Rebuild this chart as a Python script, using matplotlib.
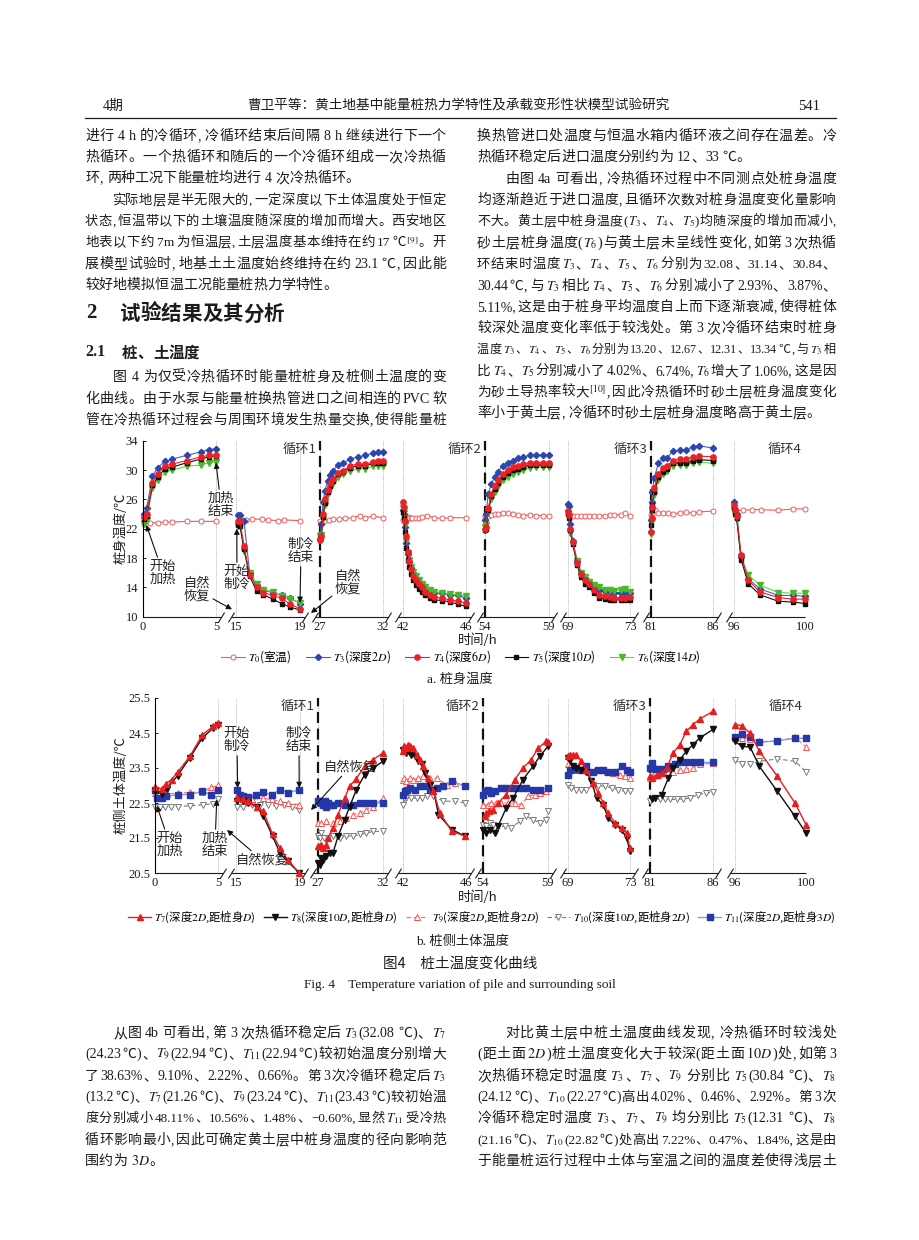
import re
import numpy as np
import matplotlib
matplotlib.use('Agg')
import matplotlib.pyplot as plt

plt.rcParams['font.family'] = ['Liberation Serif', 'Noto Sans CJK SC']
plt.rcParams['mathtext.fontset'] = 'stix'
plt.rcParams['axes.unicode_minus'] = False

W, H, DPI = 920, 1240, 100
INK = '#1c1c1c'
FAM = ['Liberation Serif', 'Noto Sans CJK SC']
CJK = 'Noto Sans CJK SC'

# ── time windows shown on the broken x axis ───────────────────────────────────
SEGMENTS = [(0, 5), (15, 19), (27, 32), (42, 46), (54, 59), (69, 73), (81, 86), (96, 100)]
XTICKS = [0, 5, 15, 19, 27, 32, 42, 46, 54, 59, 69, 73, 81, 86, 96, 100]
CYCLE_SPLITS = [27, 54, 81]
CYCLE_LABELS = ['循环1', '循环2', '循环3', '循环4']

# ── (a) pile temperature ──────────────────────────────────────────────────────
a_time = [0.1, 0.25, 0.65, 1.0, 1.5, 2.0, 3.0, 4.0, 4.5, 5.0,
          15.1, 15.25, 15.5, 15.85, 16.3, 16.7, 17.3, 17.85, 18.4, 19.0,
          27.0, 27.1, 27.25, 27.4, 27.6, 27.8, 28.05, 28.4, 28.8, 29.4, 30.0, 30.6, 31.2, 31.6, 32.0,
          42.0, 42.06, 42.13, 42.2, 42.3, 42.4, 42.5, 42.65, 42.8, 43.0, 43.2, 43.4, 43.7, 44.0, 44.5, 45.0, 45.5, 46.0,
          54.0, 54.1, 54.25, 54.5, 54.75, 55.0, 55.4, 55.8, 56.2, 56.6, 57.0, 57.5, 58.0, 58.5, 59.0,
          69.0, 69.05, 69.15, 69.3, 69.6, 69.85, 70.1, 70.35, 70.7, 71.0, 71.4, 71.7, 72.0, 72.4, 72.7, 73.0,
          81.0, 81.05, 81.12, 81.25, 81.6, 82.0, 82.3, 82.8, 83.3, 83.8, 84.4, 84.9, 86.0,
          96.0, 96.05, 96.15, 96.4, 96.8, 97.45, 98.5, 99.3, 100.0]
a_T3 = [24.0, 24.8, 29.2, 30.3, 31.2, 31.5, 32.0, 32.5, 32.8, 32.9,
        23.9, 23.9, 23.1, 16.0, 14.3, 13.6, 13.3, 12.9, 12.5, 11.8,
        20.6, 22.6, 25.7, 27.2, 28.5, 29.3, 29.9, 30.7, 30.9, 31.5, 31.8, 32.0, 32.3, 32.4, 32.4,
        24.6, 24.0, 22.3, 20.0, 18.5, 17.4, 16.6, 15.9, 15.3, 14.8, 14.4, 13.9, 13.5, 13.3, 13.2, 13.0, 12.9, 12.5,
        23.2, 24.0, 26.7, 28.1, 29.0, 29.8, 30.6, 31.0, 31.3, 31.6, 31.8, 32.0, 32.0, 32.1, 32.1,
        25.4, 25.1, 22.6, 20.3, 17.6, 16.0, 15.3, 14.7, 14.1, 13.7, 13.5, 13.4, 13.3, 13.3, 13.2, 13.2,
        23.2, 25.6, 27.0, 28.9, 30.9, 31.6, 31.7, 32.6, 32.7, 32.7, 33.2, 33.3, 33.0,
        25.7, 24.6, 24.0, 18.2, 15.2, 13.8, 12.9, 12.9, 12.8]
a_T4 = [23.6, 24.0, 28.3, 29.5, 30.6, 30.8, 31.3, 31.8, 32.0, 32.1,
        23.1, 23.0, 19.7, 15.7, 14.0, 13.3, 12.9, 12.5, 11.7, 11.1,
        20.5, 21.0, 24.0, 26.0, 27.3, 28.2, 28.8, 29.6, 29.9, 30.6, 30.8, 30.8, 31.1, 31.2, 31.2,
        25.6, 24.9, 23.0, 21.0, 18.8, 17.6, 16.5, 15.6, 15.0, 14.4, 14.0, 13.4, 13.0, 12.7, 12.5, 12.3, 12.1, 11.9,
        22.0, 22.2, 24.8, 26.8, 27.8, 28.7, 29.5, 30.0, 30.4, 30.6, 30.8, 31.0, 31.0, 31.0, 31.0,
        24.4, 23.9, 22.0, 20.2, 17.3, 15.8, 15.0, 14.4, 13.6, 13.0, 12.8, 12.7, 12.6, 12.6, 12.6, 12.7,
        21.6, 23.4, 25.0, 27.5, 29.5, 30.3, 30.6, 31.3, 31.5, 31.5, 31.8, 31.9, 31.8,
        25.2, 24.5, 23.8, 18.4, 15.0, 13.4, 12.6, 12.4, 12.4]
a_T5 = [23.3, 23.8, 27.9, 29.0, 30.2, 30.4, 31.0, 31.5, 31.8, 31.9,
        22.5, 22.4, 19.2, 15.5, 13.5, 13.0, 12.4, 11.8, 11.3, 10.9,
        20.8, 21.0, 23.6, 25.5, 27.0, 27.8, 28.5, 29.4, 29.7, 30.3, 30.6, 30.6, 30.9, 31.0, 31.0,
        24.3, 23.5, 21.5, 19.4, 17.8, 16.8, 15.8, 15.0, 14.3, 13.8, 13.4, 12.9, 12.5, 12.3, 12.2, 12.0, 11.7, 11.4,
        21.8, 22.0, 24.5, 26.4, 27.4, 28.3, 29.1, 29.6, 30.0, 30.2, 30.4, 30.7, 30.7, 30.7, 30.7,
        24.0, 23.5, 21.8, 19.9, 17.0, 15.4, 14.5, 14.0, 13.2, 12.6, 12.4, 12.3, 12.3, 12.3, 12.3, 12.3,
        22.5, 24.5, 25.3, 27.0, 29.0, 29.8, 30.2, 30.9, 31.0, 31.0, 31.2, 31.4, 31.3,
        24.8, 24.0, 23.4, 17.8, 14.5, 13.0, 12.1, 12.0, 11.8]
a_T6 = [22.6, 23.2, 27.6, 28.6, 29.7, 30.0, 30.5, 30.7, 31.0, 31.1,
        22.4, 22.4, 19.0, 16.0, 14.5, 13.7, 13.4, 12.8, 12.4, 11.9,
        21.0, 21.1, 23.3, 25.2, 26.7, 27.4, 28.2, 29.0, 29.4, 29.9, 30.1, 30.2, 30.5, 30.6, 30.5,
        24.8, 24.2, 22.5, 20.3, 18.7, 17.7, 16.8, 16.1, 15.5, 15.0, 14.5, 14.0, 13.6, 13.4, 13.3, 13.1, 13.0, 12.8,
        22.3, 22.5, 24.3, 26.0, 27.0, 27.8, 28.6, 29.1, 29.5, 29.8, 30.0, 30.3, 30.4, 30.4, 30.4,
        24.2, 23.7, 21.4, 20.0, 17.6, 16.0, 15.4, 14.8, 14.3, 14.0, 13.7, 13.6, 13.5, 13.7, 13.8, 13.4,
        21.3, 23.0, 24.4, 26.6, 28.6, 29.4, 29.9, 30.6, 30.7, 30.7, 31.0, 31.1, 30.9,
        24.5, 24.0, 23.3, 18.2, 15.7, 14.3, 13.3, 13.2, 13.2]
a_time_T0 = [0.1, 0.5, 1.0, 1.5, 2.0, 3.0, 4.0, 5.0,
             15.2, 15.6, 16.0, 16.6, 17.0, 17.6, 18.0, 19.0,
             27.0, 27.3, 27.7, 28.0, 28.5, 29.0, 29.6, 30.2, 30.6, 31.2, 32.0,
             42.0, 42.1, 42.2, 42.3, 42.4, 42.5, 42.6, 42.8, 43.0, 43.2, 43.5, 44.0, 44.5, 45.0, 46.0,
             54.0, 54.1, 54.25, 54.5, 54.75, 55.0, 55.4, 55.8, 56.2, 56.6, 57.0, 57.5, 58.0, 58.5, 59.0,
             69.0, 69.05, 69.15, 69.3, 69.6, 69.85, 70.1, 70.35, 70.7, 71.0, 71.4, 71.7, 72.0, 72.4, 72.7, 73.0,
             81.0, 81.1, 81.3, 81.6, 82.0, 82.4, 82.8, 83.3, 83.8, 84.4, 84.9, 86.0,
             96.1, 96.5, 97.0, 97.5, 98.5, 99.3, 100.0]
a_T0 = [22.7, 22.8, 22.8, 22.9, 22.9, 23.0, 23.0, 23.0,
        23.1, 23.2, 23.3, 23.3, 23.2, 23.1, 23.2, 23.1,
        23.0, 23.1, 23.2, 23.3, 23.3, 23.4, 23.5, 23.8, 23.5, 23.7, 23.5,
        23.2, 23.8, 23.5, 23.6, 23.4, 23.5, 23.5, 23.5, 23.5, 23.6, 23.8, 23.5, 23.4, 23.5, 23.5,
        23.7, 23.8, 23.8, 23.9, 24.0, 24.0, 24.1, 24.1, 24.0, 23.9, 23.8, 23.9, 23.8, 23.8, 23.7,
        24.0, 23.7, 23.7, 23.8, 23.8, 23.8, 23.8, 23.8, 23.8, 23.8, 23.8, 23.9, 23.9, 23.9, 24.1, 23.8,
        23.9, 24.2, 24.5, 24.2, 24.1, 24.2, 24.0, 24.2, 24.3, 24.1, 24.3, 24.4,
        24.5, 24.5, 24.6, 24.6, 24.5, 24.7, 24.7]

# ── (b) soil temperature beside the pile ──────────────────────────────────────
b_time_T7 = [0, 0.53, 0.84, 1.32, 1.79, 2.76, 3.76, 4.61, 5.0,
             15.08, 15.46, 15.77, 16.29, 16.71, 17.29, 17.75, 18.23, 18.96,
             27.0, 27.13, 27.26, 27.38, 27.64, 27.77, 28.15, 28.54, 29.05, 29.44, 29.95, 30.59, 31.23, 32.0,
             42.0, 42.04, 42.17, 42.32, 42.47, 42.64, 42.86, 43.07, 43.28, 43.6, 43.93, 44.35, 45.1, 45.96,
             54.13, 54.26, 54.46, 54.77, 55.15, 55.79, 56.44, 57.08, 57.72, 58.23, 58.87, 59.0,
             69.0, 69.11, 69.32, 69.54, 69.86, 70.19, 70.62, 70.95, 71.27, 71.59, 72.03, 72.46, 72.78, 73.0,
             81.0, 81.13, 81.53, 81.92, 82.32, 82.84, 83.37, 83.89, 84.42, 84.95, 86.0,
             96.0, 96.38, 96.85, 97.37, 98.39, 99.38, 100.0]
b_T7 = [22.96, 22.90, 23.05, 23.17, 23.38, 23.83, 24.45, 24.69, 24.79,
        22.64, 22.60, 22.55, 22.40, 22.26, 21.60, 21.21, 20.88, 20.50,
        21.26, 21.26, 21.31, 21.21, 21.30, 21.50, 21.79, 22.17, 22.64, 22.98, 23.20, 23.55, 23.74, 23.93,
        23.98, 24.12, 24.07, 24.17, 24.12, 24.07, 23.88, 23.74, 23.55, 23.21, 22.83, 22.21, 21.69, 21.55,
        22.12, 22.21, 22.26, 22.31, 22.50, 22.74, 23.17, 23.50, 23.74, 24.07, 24.26, 24.23,
        23.83, 23.88, 23.88, 23.88, 23.69, 23.45, 23.07, 22.79, 22.50, 22.21, 21.93, 21.79, 21.64, 21.21,
        23.26, 23.21, 23.31, 23.36, 23.50, 23.93, 24.17, 24.55, 24.74, 24.90, 25.12,
        24.74, 24.71, 24.50, 23.98, 23.26, 22.50, 21.88]
b_time_T8 = [0, 0.53, 0.92, 1.79, 2.76, 3.76, 4.61, 5.0,
             15.08, 15.46, 15.77, 16.29, 16.71, 17.29, 17.75, 18.23, 18.96,
             27.0, 27.13, 27.26, 27.38, 27.64, 27.9, 28.15, 28.54, 29.05, 29.44, 29.95, 30.59, 31.23, 32.0,
             42.0, 42.04, 42.17, 42.32, 42.53, 42.75, 42.96, 43.18, 43.39, 43.71, 43.93, 44.25, 45.1, 45.96,
             54.0, 54.26, 54.51, 54.9, 55.15, 55.79, 56.31, 57.08, 57.85, 58.36, 59.0,
             69.0, 69.11, 69.32, 69.54, 69.86, 70.19, 70.51, 70.84, 71.27, 71.59, 72.03, 72.46, 72.78, 73.0,
             81.13, 81.39, 81.92, 82.45, 82.84, 83.37, 83.89, 84.42, 84.95, 86.0,
             96.0, 96.38, 96.85, 97.37, 98.39, 99.38, 100.0]
b_T8 = [22.83, 22.77, 22.90, 23.28, 23.79, 24.36, 24.64, 24.74,
        22.55, 22.55, 22.50, 22.40, 22.12, 21.55, 21.07, 20.83, 20.50,
        20.79, 20.74, 20.93, 20.88, 20.98, 21.07, 21.07, 21.55, 22.02, 22.40, 22.88, 23.31, 23.50, 23.69,
        24.02, 23.98, 23.93, 23.98, 23.88, 23.83, 23.69, 23.60, 23.36, 23.02, 22.88, 22.17, 21.74, 21.55,
        21.74, 21.64, 21.74, 21.64, 21.83, 22.36, 22.64, 23.17, 23.55, 23.83, 24.12,
        23.79, 23.74, 23.55, 23.50, 23.45, 23.40, 23.12, 22.64, 22.45, 22.07, 21.88, 21.74, 21.50, 21.12,
        22.60, 22.64, 22.74, 23.21, 23.50, 23.74, 23.98, 24.17, 24.36, 24.60,
        24.26, 24.12, 24.10, 23.55, 22.83, 22.12, 21.64]
b_time_T9 = [0, 0.53, 0.92, 1.84, 2.76, 3.76, 4.47, 5.0,
             15.08, 15.46, 15.98, 16.71, 17.23, 17.75, 18.27, 18.96,
             27.0, 27.26, 27.64, 28.15, 28.67, 29.18, 29.69, 30.21, 30.72, 31.23, 32.0,
             42.0, 42.04, 42.21, 42.43, 42.64, 42.96, 43.28, 43.71, 44.14, 44.78, 45.32, 45.96,
             54.0, 54.38, 54.64, 55.03, 55.41, 55.92, 56.44, 56.95, 57.46, 57.97, 58.36, 58.87,
             69.0, 69.11, 69.32, 69.65, 70.08, 70.41, 70.73, 71.05, 71.49, 71.92, 72.35, 72.68, 73.0,
             81.0, 81.26, 81.66, 82.05, 82.45, 82.84, 83.37, 83.89, 84.42, 84.95, 86.0,
             96.0, 96.38, 96.85, 97.37, 98.39, 99.38, 100.0]
b_T9 = [22.78, 22.77, 22.76, 22.78, 22.80, 22.82, 22.95, 23.00,
        22.69, 22.64, 22.60, 22.64, 22.60, 22.55, 22.50, 22.45,
        21.93, 21.93, 21.98, 21.93, 21.98, 22.07, 22.17, 22.21, 22.31, 22.40, 22.64,
        23.17, 23.21, 23.12, 23.21, 23.17, 23.21, 23.26, 23.21, 23.21, 23.02, 23.07, 22.98,
        22.45, 22.45, 22.50, 22.50, 22.50, 22.50, 22.50, 22.45, 22.69, 22.74, 22.79, 22.83,
        23.60, 23.55, 23.45, 23.45, 23.45, 23.40, 23.45, 23.45, 23.40, 23.36, 23.31, 23.26, 23.21,
        23.21, 23.26, 23.31, 23.36, 23.40, 23.40, 23.45, 23.48, 23.50, 23.60, 23.64,
        24.36, 24.36, 24.33, 24.26, 24.26, 24.38, 24.10]
b_time_T10 = [0, 0.4, 0.8, 1.3, 1.8, 2.8, 3.8, 4.6, 5.0,
              15.08, 15.46, 15.98, 16.5, 17.0, 17.5, 18.0, 18.5, 18.96,
              27.0, 27.13, 27.26, 27.5, 27.77, 28.15, 28.67, 29.18, 29.69, 30.21, 30.72, 31.23, 32.0,
              42.0, 42.04, 42.21, 42.53, 42.86, 43.18, 43.5, 43.93, 44.57, 45.32, 45.96,
              54.0, 54.26, 54.51, 54.77, 55.15, 55.67, 56.18, 56.82, 57.33, 57.85, 58.36, 58.87, 59.0,
              69.0, 69.22, 69.54, 69.86, 70.19, 70.62, 70.95, 71.38, 71.81, 72.24, 72.68, 73.0,
              81.0, 81.39, 81.79, 82.18, 82.58, 83.11, 83.63, 84.16, 84.82, 85.47, 86.0,
              96.0, 96.38, 96.85, 97.37, 98.39, 99.38, 100.0]
b_T10 = [22.40, 22.38, 22.38, 22.38, 22.40, 22.42, 22.45, 22.48, 22.60,
         22.40, 22.40, 22.45, 22.45, 22.43, 22.42, 22.45, 22.40, 22.31,
         21.55, 21.50, 21.64, 21.50, 21.50, 21.55, 21.50, 21.55, 21.55, 21.60, 21.64, 21.69, 21.69,
         22.45, 22.64, 22.64, 22.64, 22.64, 22.64, 22.69, 22.69, 22.55, 22.55, 22.50,
         21.88, 21.83, 21.93, 21.88, 21.83, 21.83, 21.79, 21.98, 22.12, 22.02, 21.93, 22.02, 22.26,
         23.02, 22.93, 22.88, 22.88, 22.88, 23.02, 22.98, 22.98, 22.93, 22.88, 22.83, 22.83,
         22.55, 22.64, 22.60, 22.60, 22.60, 22.60, 22.62, 22.64, 22.74, 22.79, 22.80,
         23.74, 23.60, 23.60, 23.69, 23.76, 23.69, 23.40]
b_time_T11 = [0, 0.13, 0.53, 0.84, 1.79, 2.76, 3.76, 4.47, 5.0,
              15.08, 15.25, 15.46, 15.77, 16.25, 16.71, 17.23, 17.75, 18.27, 18.96,
              27.0, 27.13, 27.26, 27.38, 27.51, 27.64, 27.77, 27.9, 28.15, 28.54, 29.05, 29.69, 30.21, 30.72, 31.23, 32.0,
              42.0, 42.11, 42.26, 42.43, 42.75, 43.07, 43.39, 43.71, 44.14, 44.57, 45.1, 45.96,
              54.0, 54.13, 54.38, 54.64, 54.9, 55.41, 55.79, 56.31, 56.82, 57.33, 57.85, 58.36, 59.0,
              69.0, 69.11, 69.37, 69.54, 69.86, 70.19, 70.62, 70.95, 71.27, 71.59, 72.03, 72.46, 72.78, 73.0,
              81.0, 81.13, 81.39, 81.66, 82.0, 82.45, 82.97, 83.37, 83.89, 84.42, 84.95, 86.0,
              96.0, 96.38, 96.85, 97.37, 98.39, 99.38, 100.0]
b_T11 = [22.88, 22.63, 22.64, 22.69, 22.74, 22.74, 22.83, 22.74, 22.88,
         22.88, 22.74, 22.69, 22.67, 22.74, 22.80, 22.74, 22.88, 22.79, 22.88,
         22.55, 22.55, 22.50, 22.45, 22.55, 22.40, 22.50, 22.45, 22.45, 22.50, 22.45, 22.45, 22.50, 22.50, 22.50, 22.50,
         22.74, 22.83, 22.88, 22.93, 22.88, 22.98, 22.98, 22.88, 22.93, 22.98, 23.12, 22.98,
         22.74, 22.83, 22.88, 22.79, 22.83, 22.93, 22.93, 22.93, 22.93, 22.93, 22.88, 22.88, 22.93,
         23.31, 23.45, 23.48, 23.48, 23.45, 23.55, 23.40, 23.45, 23.45, 23.40, 23.40, 23.55, 23.45, 23.40,
         23.50, 23.64, 23.48, 23.48, 23.48, 23.55, 23.62, 23.66, 23.66, 23.66, 23.66, 23.66,
         24.40, 24.48, 24.38, 24.23, 24.28, 24.35, 24.35]

# ── page text ─────────────────────────────────────────────────────────────────
LEFT_TOP = [
    (135, '进行 4 h 的冷循环,冷循环结束后间隔 8 h 继续进行下一个', True),
    (156, '热循环。一个热循环和随后的一个冷循环组成一次冷热循', True),
    (177, '环,两种工况下能量桩均进行 4 次冷热循环。', False),
    (199, '\u3000\u3000实际地层是半无限大的,一定深度以下土体温度处于恒定', True),
    (220, '状态,恒温带以下的土壤温度随深度的增加而增大。西安地区', True),
    (241, '地表以下约 7 m 为恒温层,土层温度基本维持在约 17 ℃$^{[9]}$。开', True),
    (263, '展模型试验时,地基土土温度始终维持在约 23.1 ℃,因此能', True),
    (284, '较好地模拟恒温工况能量桩热力学特性。', False),
    (376, '\u3000\u3000图 4 为仅受冷热循环时能量桩桩身及桩侧土温度的变', True),
    (398, '化曲线。由于水泵与能量桩换热管进口之间相连的 PVC 软', True),
    (419, '管在冷热循环过程会与周围环境发生热量交换,使得能量桩', True),
]
RIGHT_TOP = [
    (135, '换热管进口处温度与恒温水箱内循环液之间存在温差。冷', True),
    (156, '热循环稳定后进口温度分别约为 12、33 ℃。', False),
    (178, '\u3000\u3000由图 4a 可看出,冷热循环过程中不同测点处桩身温度', True),
    (199, '均逐渐趋近于进口温度,且循环次数对桩身温度变化量影响', True),
    (220, '不大。黄土层中桩身温度($T_3$、$T_4$、$T_5$)均随深度的增加而减小,', True),
    (242, '砂土层桩身温度($T_6$)与黄土层未呈线性变化,如第 3 次热循', True),
    (263, '环结束时温度 $T_3$、$T_4$、$T_5$、$T_6$ 分别为 32.08、31.14、30.84、', True),
    (285, '30.44 ℃, 与 $T_3$ 相比 $T_4$、$T_5$、$T_6$ 分别减小了 2.93%、3.87%、', True),
    (306, '5.11%,这是由于桩身平均温度自上而下逐渐衰减,使得桩体', True),
    (327, '较深处温度变化率低于较浅处。第 3 次冷循环结束时桩身', True),
    (348, '温度 $T_3$、$T_4$、$T_5$、$T_6$分别为 13.20、12.67、12.31、13.34 ℃,与 $T_3$ 相', True),
    (370, '比 $T_4$、$T_5$分别减小了 4.02%、6.74%,$T_6$增大了 1.06%,这是因', True),
    (391, '为砂土导热率较大$^{[10]}$,因此冷热循环时砂土层桩身温度变化', True),
    (412, '率小于黄土层,冷循环时砂土层桩身温度略高于黄土层。', False),
]
LEFT_BOTTOM = [
    (1032, '\u3000\u3000从图 4b 可看出,第 3 次热循环稳定后 $T_3$(32.08 ℃)、$T_7$', True),
    (1053, '(24.23 ℃)、$T_9$(22.94 ℃)、$T_{11}$(22.94 ℃)较初始温度分别增大', True),
    (1075, '了 38.63%、9.10%、2.22%、0.66%。第 3 次冷循环稳定后 $T_3$', True),
    (1096, '(13.2 ℃)、$T_7$(21.26 ℃)、$T_9$(23.24 ℃)、$T_{11}$(23.43 ℃)较初始温', True),
    (1117, '度分别减小 48.11%、10.56%、1.48%、−0.60%,显然 $T_{11}$ 受冷热', True),
    (1139, '循环影响最小,因此可确定黄土层中桩身温度的径向影响范', True),
    (1160, '围约为 $3D$。', False),
]
RIGHT_BOTTOM = [
    (1032, '\u3000\u3000对比黄土层中桩土温度曲线发现,冷热循环时较浅处', True),
    (1053, '(距土面 $2D$)桩土温度变化大于较深(距土面 $10D$)处,如第 3', True),
    (1075, '次热循环稳定时温度 $T_3$、$T_7$、$T_9$ 分别比 $T_5$(30.84 ℃)、$T_8$', True),
    (1096, '(24.12 ℃)、$T_{10}$(22.27 ℃)高出 4.02%、0.46%、2.92%。第 3 次', True),
    (1117, '冷循环稳定时温度 $T_3$、$T_7$、$T_9$ 均分别比 $T_5$(12.31 ℃)、$T_8$', True),
    (1139, '(21.16 ℃)、$T_{10}$(22.82 ℃)处高出 7.22%、0.47%、1.84%,这是由', True),
    (1160, '于能量桩运行过程中土体与室温之间的温度差使得浅层土', True),
]

fig = plt.figure(figsize=(W / DPI, H / DPI), dpi=DPI)
fig.patch.set_facecolor('white')
renderer = fig.canvas.get_renderer()


def fx(px):
    return px / W


def fy(py):
    return 1 - py / H


LAT = re.compile(r'[A-Za-z0-9.%,;:()\[\]/+\-−]+')
TOK = re.compile(r'\$[^$]+\$|[A-Za-z0-9.%,;:()\[\]/+\-−]+|.')
PUNCT = '、，。；：'
MIN_GAP = 0.4


def text_line(s, x0, x1, yc, em=14.0, justify=True, weight='normal'):
    """set one line of body text, spreading the glyphs over the column"""
    fs = em * 72 / DPI
    items, pad = [], 0.0
    for tok in TOK.findall(s):
        if tok == ' ':
            pad += 0.28 * em
            continue
        if tok == '\u3000':
            pad += em
            continue
        t = fig.text(0, 0, tok, fontsize=fs, family=FAM, fontweight=weight,
                     va='baseline', color=INK)
        if tok.startswith('$') or LAT.fullmatch(tok):
            w = t.get_window_extent(renderer).width
            kind = 'lat'
        else:
            w, kind = em, 'cjk'
        items.append([t, tok, kind, w, pad])
        pad = 0.3 * em if tok.endswith(',') else 0.0
    n = len(items)
    avail = x1 - x0
    natural = sum(it[3] + it[4] for it in items)
    if justify and natural + MIN_GAP * (n - 1) > avail:
        # first tighten the word spaces, then shrink the glyphs of this line
        spaces = sum(it[4] for it in items[1:])
        cut = min(0.6 * spaces, natural + MIN_GAP * (n - 1) - avail)
        if spaces:
            for it in items[1:]:
                it[4] -= cut * it[4] / spaces
        natural -= cut
        if natural + MIN_GAP * (n - 1) > avail:
            k = (avail - MIN_GAP * (n - 1)) / natural
            for it in items:
                it[0].set_fontsize(fs * k)
                it[3] *= k
                it[4] *= k
            natural *= k
    gap = (avail - natural) / (n - 1) if justify and n > 1 else 0.0
    base = yc + 0.36 * em
    x = x0
    for i, (t, tok, kind, w, p) in enumerate(items):
        x += p + (gap if i else 0.0)
        if kind == 'lat' or tok in PUNCT:
            t.set_ha('left'); px = x
        else:
            t.set_ha('center'); px = x + w / 2
        t.set_position((fx(px), fy(base)))
        x += w


# ── running head ──────────────────────────────────────────────────────────────
fig.text(fx(103), fy(106), '4期', fontsize=10, va='center', ha='left', color=INK)
fig.text(fx(458), fy(106), '曹卫平等：黄土地基中能量桩热力学特性及承载变形性状模型试验研究',
         fontsize=9.8, va='center', ha='center', family=[CJK], color=INK)
fig.text(fx(820), fy(106), '541', fontsize=10.5, va='center', ha='right', color=INK)
fig.add_artist(plt.Line2D([fx(85), fx(836)], [fy(118), fy(118)], color=INK, lw=0.9))

for y, s, j in LEFT_TOP:
    text_line(s, 85, 446, y, justify=j)
for y, s, j in RIGHT_TOP:
    text_line(s, 477, 836, y, justify=j)
for y, s, j in LEFT_BOTTOM:
    text_line(s, 85, 446, y, justify=j)
for y, s, j in RIGHT_BOTTOM:
    text_line(s, 477, 836, y, justify=j)

fig.text(fx(86), fy(313), '2', fontsize=15, fontweight='bold', va='center', ha='left', color=INK)
text_line('试验结果及其分析', 120, 290, 313, em=20.5, justify=False, weight='bold')
fig.text(fx(85), fy(352), '2.1', fontsize=11.5, fontweight='bold', va='center', ha='left', color=INK)
text_line('桩、土温度', 122, 200, 352, em=15.5, justify=False, weight='bold')


# ── charts ────────────────────────────────────────────────────────────────────
def broken_axes(left, top, right, bottom, seg_px, ylim, yticks, ylabel, ylabel_x):
    ax = fig.add_axes([fx(left), fy(bottom), (right - left) / W, (bottom - top) / H])
    fwd = lambda t: np.interp(t, XTICKS, seg_px)
    inv = lambda p: np.interp(p, seg_px, XTICKS)
    ax.set_xscale('function', functions=(fwd, inv))
    ax.set_xlim(0, 100)
    ax.set_ylim(*ylim)
    ax.set_xticks(XTICKS)
    ax.set_xticklabels([str(t) for t in XTICKS])
    ax.xaxis.set_minor_locator(matplotlib.ticker.NullLocator())
    ax.set_yticks(yticks)
    ax.set_yticklabels([f'{v:g}' if v == int(v) else f'{v:.1f}' for v in yticks])
    for side in ('top', 'right', 'bottom'):
        ax.spines[side].set_visible(False)
    ax.spines['left'].set_linewidth(0.8)
    ax.tick_params(axis='both', direction='in', length=2.5, width=0.7, labelsize=9, colors=INK)
    ax.tick_params(axis='x', length=0, pad=3)
    ax.patch.set_alpha(0)

    y0 = ylim[0]
    # baseline pieces with break marks between the time windows
    for i, (t0, t1) in enumerate(SEGMENTS):
        p0, p1 = seg_px[2 * i], seg_px[2 * i + 1]
        a = 0 if i == 0 else inv(p0 - 5)
        b = 100 if i == len(SEGMENTS) - 1 else inv(p1 + 5)
        ax.plot([a, b], [y0, y0], color=INK, lw=0.8, clip_on=False, solid_capstyle='butt')
        ends = ([] if i == 0 else [a]) + ([] if i == len(SEGMENTS) - 1 else [b])
        if ends:
            ax.plot(ends, [y0] * len(ends), ls='none', marker=[(-1, -1.6), (1, 1.6)],
                    ms=7, mec=INK, mew=0.8, clip_on=False)
        for t in (t0, t1):
            if t > 0:
                ax.axvline(t, color='#9a9a9a', lw=0.6, ls=(0, (1, 1.5)), zorder=0)
    for t in CYCLE_SPLITS:
        ax.axvline(t, color='#111111', lw=1.6, ls=(0, (5, 2.5)), zorder=1)
    for t, lab in zip(CYCLE_SPLITS + [100], CYCLE_LABELS):
        ax.annotate(lab, xy=(t, 1), xycoords=('data', 'axes fraction'), xytext=(-2.5, -6),
                    textcoords='offset points', ha='right', va='center', fontsize=9.5,
                    family=[CJK], color='#333333')
    fig.text(fx(ylabel_x), fy((top + bottom) / 2), ylabel, rotation=90, ha='center', va='center',
             fontsize=9.5, family=[CJK], color=INK)
    return ax


def plot_series(ax, t, v, **style):
    t, v = np.asarray(t, float), np.asarray(v, float)
    first = None
    for t0, t1 in SEGMENTS:
        m = (t >= t0 - 1e-9) & (t <= t1 + 1e-9)
        if m.any():
            ln, = ax.plot(t[m], v[m], clip_on=False, **style)
            first = first or ln
    return first


def note(ax, s, head, text_px):
    ax.annotate(s, xy=head, xycoords='data', xytext=(text_px[0], H - text_px[1]),
                textcoords='figure pixels', ha='center', va='center', fontsize=9.5,
                family=[CJK], linespacing=1.0, color='#222222',
                arrowprops=dict(arrowstyle='-|>', color='#111111', lw=0.8,
                                mutation_scale=8, shrinkA=0, shrinkB=0))


SEG_PX_A = [143, 216, 236, 300, 320, 383, 403, 466, 485, 549, 568, 630, 651, 713, 734, 805]
SEG_PX_B = [155, 218, 236, 300, 318, 383, 403, 466, 483, 548, 568, 630, 650, 713, 735, 806]

ax_a = broken_axes(143, 440.7, 805, 616.7, SEG_PX_A, (10, 34), [10, 14, 18, 22, 26, 30, 34],
                   '桩身温度/℃', 121)
h0 = plot_series(ax_a, a_time_T0, a_T0, color='#f05a5a', lw=0.8, marker='o', ms=3.6,
                 mfc='white', mec='#f05a5a', mew=0.7)
h3 = plot_series(ax_a, a_time, a_T3, color='#4862c8', lw=0.8, marker='D', ms=3.2,
                 mfc='#2c46b0', mec='#2c46b0')
h6 = plot_series(ax_a, a_time, a_T6, color='#66d040', lw=0.8, marker='v', ms=4,
                 mfc='#49b82a', mec='#49b82a')
h5 = plot_series(ax_a, a_time, a_T5, color='#111111', lw=0.8, marker='s', ms=3.2)
h4 = plot_series(ax_a, a_time, a_T4, color='#ea2228', lw=0.8, marker='o', ms=3.8,
                 mec='#ea2228')
note(ax_a, '开始\n加热', (0.23, 22.5), (163, 573))
note(ax_a, '加热\n结束', (5.0, 31.0), (221, 505))
note(ax_a, '自然\n恢复', (13.0, 11.0), (197, 590))
note(ax_a, '开始\n制冷', (15.05, 22.0), (237, 578))
note(ax_a, '制冷\n结束', (19.0, 11.9), (301, 551))
note(ax_a, '自然\n恢复', (23.4, 10.5), (348, 583))
fig.text(fx(478), fy(640), '时间/h', ha='center', va='center', fontsize=9.5, family=[CJK], color=INK)
fig.legend([h0, h3, h4, h5, h6],
           ['$T_0$(室温)', '$T_3$(深度$2D$)', '$T_4$(深度$6D$)', '$T_5$(深度$10D$)', '$T_6$(深度$14D$)'],
           loc='center', bbox_to_anchor=(fx(461), fy(657)), ncol=5, frameon=False,
           prop={'family': CJK, 'size': 8.5}, handlelength=2.0, handletextpad=0.3,
           columnspacing=1.2)
fig.text(fx(460), fy(680), 'a. 桩身温度', ha='center', va='center', fontsize=9.5, color=INK)

ax_b = broken_axes(155, 698, 806, 873, SEG_PX_B, (20.5, 25.5), [20.5, 21.5, 22.5, 23.5, 24.5, 25.5],
                   '桩侧土体温度/℃', 121)
h10 = plot_series(ax_b, b_time_T10, b_T10, color='#7a7a7a', lw=0.8, ls=(0, (4, 2.5)), marker='v',
                  ms=4.5, mfc='white', mec='#7a7a7a', mew=0.7)
h9 = plot_series(ax_b, b_time_T9, b_T9, color='#ff6666', lw=0.8, ls=(0, (4, 2.5)), marker='^',
                 ms=4.5, mfc='white', mec='#ff5050', mew=0.7)
h11 = plot_series(ax_b, b_time_T11, b_T11, color='#8a9ae0', lw=1.0, marker='s', ms=3.8,
                  mfc='#2638a8', mec='#2638a8')
h8 = plot_series(ax_b, b_time_T8, b_T8, color='#111111', lw=1.0, marker='v', ms=4.2)
h7 = plot_series(ax_b, b_time_T7, b_T7, color='#e81e1e', lw=1.0, marker='^', ms=4.2)
note(ax_b, '开始\n加热', (0.15, 22.42), (170, 845))
note(ax_b, '加热\n结束', (4.9, 22.6), (215, 845))
note(ax_b, '开始\n制冷', (15.1, 22.93), (237, 740))
note(ax_b, '制冷\n结束', (18.95, 22.93), (299, 740))
note(ax_b, '自然恢复', (10.0, 21.73), (262, 860))
note(ax_b, '自然恢复', (23.9, 22.3), (350, 767))
fig.text(fx(478), fy(897), '时间/h', ha='center', va='center', fontsize=9.5, family=[CJK], color=INK)
fig.legend([h7, h8, h9, h10, h11],
           ['$T_7$(深度$2D$,距桩身$D$)', '$T_8$(深度$10D$,距桩身$D$)', '$T_9$(深度$2D$,距桩身$2D$)',
            '$T_{10}$(深度$10D$,距桩身$2D$)', '$T_{11}$(深度$2D$,距桩身$3D$)'],
           loc='center', bbox_to_anchor=(fx(482), fy(917)), ncol=5, frameon=False,
           prop={'family': CJK, 'size': 8.2}, handlelength=2.0, handletextpad=0.3,
           columnspacing=0.7)
fig.text(fx(462), fy(942), 'b. 桩侧土体温度', ha='center', va='center', fontsize=9.5, color=INK)
fig.text(fx(460), fy(964), '图4\u3000桩土温度变化曲线', ha='center', va='center', fontsize=10.5,
         family=[CJK], color=INK)
fig.text(fx(460), fy(985), 'Fig. 4    Temperature variation of pile and surrounding soil',
         ha='center', va='center', fontsize=9.5, color=INK)

fig.savefig('out.png', dpi=DPI, facecolor='white')
